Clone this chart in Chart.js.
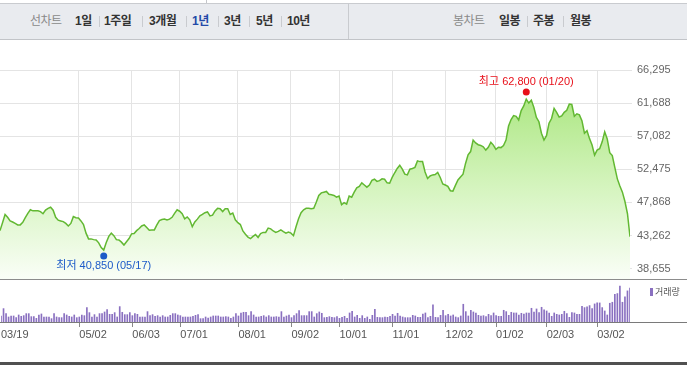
<!DOCTYPE html>
<html lang="ko">
<head>
<meta charset="utf-8">
<title>1년 차트</title>
<script src="https://cdn.jsdelivr.net/npm/chart.js@4.4.1/dist/chart.umd.min.js"></script>
<style>
    html, body { margin: 0; padding: 0; background: #fff; }
    body { width: 687px; height: 365px; position: relative; overflow: hidden;
           font-family: 'Liberation Sans', 'Noto Sans CJK KR', sans-serif; }
    #tabEdge { position: absolute; left: 206px; top: 0; width: 1px; height: 3px; background: #c4c6ca; }
    #bar { position: absolute; left: 0; top: 3px; width: 687px; height: 35px; background: #e9ebef;
           border-top: 1px solid #c9cbcf; border-bottom: 1px solid #c2c4c8; }
    #bar span { position: absolute; top: 0; line-height: 35px; font-size: 12px; font-weight: bold;
                color: #333; letter-spacing: -0.5px; white-space: nowrap; }
    #bar span.kind { font-weight: normal; color: #8a8a8a; }
    #bar span.on { color: #2349a8; }
    #bar i { position: absolute; top: 12px; width: 1px; height: 11px; background: #c9cbcf; }
    #bar b { position: absolute; top: 0; left: 348px; width: 1px; height: 35px; background: #c9cbcf; }
    canvas { position: absolute; left: 0; }
    #priceChart { top: 44px; }
    #volChart { top: 280px; }
    #volKey { position: absolute; left: 650px; top: 288px; width: 3px; height: 8px; background: #8a70c0; }
    #volKeyText { position: absolute; left: 655px; top: 285px; font-size: 9px; line-height: 14px; color: #555; }
    #foot { position: absolute; left: 0; top: 362px; width: 687px; height: 3px; background: #505050; }
</style>
</head>
<body>
<div id="tabEdge"></div>
<div id="bar">
    <span class="kind" style="left:30px">선차트</span>
    <span style="left:75px">1일</span><i style="left:99px"></i>
    <span style="left:104px">1주일</span><i style="left:142px"></i>
    <span style="left:149px">3개월</span><i style="left:186px"></i>
    <span class="on" style="left:192px">1년</span><i style="left:218px"></i>
    <span style="left:224px">3년</span><i style="left:249px"></i>
    <span style="left:256px">5년</span><i style="left:281px"></i>
    <span style="left:287px">10년</span>
    <b></b>
    <span class="kind" style="left:453px">봉차트</span>
    <span style="left:499px">일봉</span><i style="left:527px"></i>
    <span style="left:533px">주봉</span><i style="left:563px"></i>
    <span style="left:570px">월봉</span>
</div>
<canvas id="priceChart" width="687" height="236"></canvas>
<canvas id="volChart" width="687" height="82"></canvas>
<div id="volKey"></div>
<div id="volKeyText">거래량</div>
<div id="foot"></div>

<script>
// daily closes, one per trading day (03/19 .. 03/19 next year)
const closes = [
    43950, 45050, 46200, 45800, 45300, 45150, 44950, 44750, 44750, 45100,
    45750, 46350, 46850, 46700, 46700, 46700, 46600, 46300, 46800, 47050,
    47200, 46800, 45800, 45400, 45300, 45200, 44950, 44600, 44950, 45900,
    45750, 45700, 45300, 44800, 43600, 42800, 42800, 42700, 42650, 42250,
    41600, 41250, 42300, 43150, 43600, 43250, 42700, 42650, 42350, 41950,
    42400, 42850, 43500, 43550, 43950, 44250, 44600, 44750, 44400, 44000,
    44050, 44050, 44750, 45350, 45500, 45550, 45450, 45550, 45800, 46350,
    46850, 46650, 46300, 45600, 45850, 45450, 44500, 45150, 45550, 46000,
    46200, 46450, 46550, 46000, 46100, 46700, 47050, 47000, 46600, 47000,
    47000, 46200, 46400, 45450, 45050, 44800, 43900, 43450, 43050, 42850,
    43150, 43400, 43000, 43550, 43700, 43700, 44300, 44200, 43900, 43700,
    43850, 44050, 43800, 43600, 43750, 43600, 43250, 44500, 45600, 46450,
    46850, 47050, 47050, 47000, 47050, 47900, 48850, 49200, 49300, 49400,
    49000, 48950, 48850, 48600, 48750, 47550, 47850, 47650, 48750, 48600,
    49300, 49900, 50100, 50600, 50300, 50000, 50300, 50950, 51100, 50800,
    50900, 51150, 51100, 50600, 50550, 51350, 52000, 52600, 53050, 52500,
    51800, 51700, 52500, 52600, 52750, 53650, 53550, 53550, 52100, 51200,
    51550, 51700, 51750, 52050, 51350, 50450, 50300, 50100, 49500, 49450,
    50250, 51000, 51400, 51800, 53300, 54500, 54950, 56550, 56150, 55900,
    55800, 55600, 55150, 55550, 56250, 55850, 55250, 55550, 55500, 55800,
    56550, 58500, 59400, 59950, 59850, 59350, 60650, 61300, 62250, 61700,
    62100, 61100, 59700, 59100, 57500, 56550, 57150, 58900, 59550, 60950,
    60400, 59750, 59900, 60400, 60700, 61550, 61500, 59850, 60200, 60050,
    59250, 57500, 57850, 56750, 55850, 54450, 55150, 55350, 56300, 57700,
    56700, 54800, 54400, 52750, 51150, 50150, 49300, 48000, 46300, 43100
];

// daily volume (만주)
const volumes = [
    720, 1600, 1000, 600, 720, 720, 520, 840, 680, 760,
    1000, 1000, 640, 640, 440, 840, 960, 600, 600, 600,
    400, 1000, 600, 520, 520, 1000, 840, 680, 600, 840,
    520, 600, 840, 760, 1720, 1120, 600, 880, 600, 1000,
    1000, 1200, 1480, 920, 920, 1120, 600, 1840, 1160, 880,
    880, 1120, 760, 1000, 920, 600, 600, 600, 1240, 760,
    880, 680, 760, 600, 760, 600, 600, 800, 1000, 1000,
    840, 760, 600, 600, 600, 600, 680, 800, 880, 400,
    400, 600, 480, 600, 720, 720, 720, 600, 600, 640,
    600, 440, 600, 1000, 720, 1080, 1160, 1160, 760, 1240,
    840, 600, 600, 680, 760, 600, 760, 600, 600, 640,
    600, 1240, 600, 720, 840, 520, 760, 1000, 1360, 760,
    760, 760, 1240, 1240, 600, 1000, 1200,
    1040, 520, 560, 640, 560, 520, 640, 440, 560, 680,
    440, 1080, 1280, 600, 800, 440, 760, 440, 600, 320,
    800, 1520, 560, 520, 520, 600, 560, 680, 920, 720,
    1040, 720, 600, 520, 520, 520, 800, 720, 560, 560,
    960, 1080, 520, 680, 2040, 560, 520, 800, 1400, 760,
    920, 720, 840, 600, 520, 720, 2120, 1240, 720, 1400,
    1200, 1080, 800, 720, 760, 640, 920, 760, 1080, 760,
    680, 680, 1400, 1240, 800, 1160, 1080, 1080, 840, 1040,
    960, 1080, 1080, 1640, 1200, 1560, 1120, 1760, 1440, 1320,
    1080, 680, 1080, 920, 840, 920, 1280, 1000, 560, 1120,
    1080, 920, 920, 1880, 1720, 1800, 1960, 1600, 2160, 2280,
    2280, 1720, 1320, 840, 2240, 2360, 3320, 3400, 4280, 2360,
    3000, 3720, 4040
];

// x-axis labels and the trading-day index they sit on
const tickLabels = ['03/19', '05/02', '06/03', '07/01', '08/01', '09/02', '10/01', '11/01', '12/02', '01/02', '02/03', '03/02'];
const tickIdx = [0, 31, 52, 71, 94, 115, 134, 155, 176, 196, 216, 236];

// y-axis ticks
const priceTicks = [38655, 43262, 47868, 52475, 57082, 61688, 66295];
const priceMin = 37222;
const volMax = 4900;

// high / low markers
const hiIdx = 208, hiPrice = 62800, hiDate = '01/20';
const loIdx = 41, loPrice = 40850, loDate = '05/17';

document.addEventListener('DOMContentLoaded', function () {
    Chart.defaults.font.family = "'Liberation Sans', 'Noto Sans CJK KR', sans-serif";
    Chart.defaults.font.size = 11;
    Chart.defaults.color = '#555';

    const lastIdx = closes.length - 1;
    const fmt = (n) => n.toLocaleString('en-US');

    // full-width rule under the plot area
    const edgeLine = {
        id: 'edgeLine',
        afterDraw(chart, args, opts) {
            const { ctx, chartArea } = chart;
            ctx.save();
            ctx.strokeStyle = opts.color;
            ctx.lineWidth = 1;
            ctx.beginPath();
            ctx.moveTo(0, chartArea.bottom + 0.5);
            ctx.lineTo(chart.width, chartArea.bottom + 0.5);
            ctx.stroke();
            ctx.restore();
        }
    };

    // 최고 / 최저 markers
    const hiLo = {
        id: 'hiLo',
        afterDatasetsDraw(chart) {
            const { ctx, scales: { x, y } } = chart;
            const marks = [
                { i: hiIdx, v: hiPrice, d: hiDate, name: '최고', color: '#e8101a', dy: -3, ty: -10 },
                { i: loIdx, v: loPrice, d: loDate, name: '최저', color: '#1d5bc8', dy: 3, ty: 10.5 }
            ];
            ctx.save();
            ctx.font = "11px 'Liberation Sans', 'Noto Sans CJK KR', sans-serif";
            ctx.textAlign = 'center';
            ctx.textBaseline = 'middle';
            marks.forEach(m => {
                const px = x.getPixelForValue(m.i);
                const py = y.getPixelForValue(m.v) + m.dy;
                ctx.fillStyle = m.color;
                ctx.beginPath();
                ctx.arc(px, py, 3.5, 0, Math.PI * 2);
                ctx.fill();
                ctx.fillText(`${m.name} ${fmt(m.v)} (${m.d})`, px, py + m.ty);
            });
            ctx.restore();
        }
    };

    const hideFirst = (c) => c.index === 0 ? 'rgba(0,0,0,0)' : '#e4e4e4';

    new Chart(document.getElementById('priceChart').getContext('2d'), {
        type: 'line',
        data: {
            datasets: [{
                data: closes.map((v, i) => ({ x: i, y: v })),
                borderColor: '#62b832',
                borderWidth: 1.5,
                pointRadius: 0,
                tension: 0,
                fill: 'start',
                backgroundColor: (c) => {
                    const a = c.chart.chartArea;
                    if (!a) return 'rgba(0,0,0,0)';
                    const g = c.chart.ctx.createLinearGradient(0, a.top, 0, a.bottom);
                    g.addColorStop(0, '#a2e373');
                    g.addColorStop(0.55, '#d4f4bd');
                    g.addColorStop(1, '#fafef7');
                    return g;
                }
            }]
        },
        options: {
            responsive: false, animation: false, devicePixelRatio: 1,
            layout: { padding: { top: 26, bottom: 1, left: 0, right: 0 } },
            scales: {
                x: {
                    type: 'linear', min: 0, max: lastIdx,
                    afterBuildTicks: (s) => { s.ticks = tickIdx.map(v => ({ value: v })); },
                    afterFit: (s) => { s.height = 0; },
                    ticks: { display: false },
                    grid: { color: hideFirst, drawTicks: false },
                    border: { display: false }
                },
                y: {
                    position: 'right', min: priceMin, max: priceTicks[priceTicks.length - 1],
                    afterBuildTicks: (s) => { s.ticks = priceTicks.map(v => ({ value: v })); },
                    afterFit: (s) => { s.width = 57; s.paddingTop = 0; s.paddingBottom = 0; },
                    ticks: { color: '#666', padding: 5, callback: (v) => fmt(v) },
                    grid: { color: '#e4e4e4', tickLength: 2 },
                    border: { display: false }
                }
            },
            plugins: {
                legend: { display: false }, tooltip: { enabled: false },
                edgeLine: { color: '#8c8c8c' }
            }
        },
        plugins: [edgeLine, hiLo]
    });

    new Chart(document.getElementById('volChart').getContext('2d'), {
        type: 'bar',
        data: {
            datasets: [{
                data: volumes.map((v, i) => ({ x: i, y: v })),
                backgroundColor: '#8a70c0',
                barThickness: 1
            }]
        },
        options: {
            responsive: false, animation: false, devicePixelRatio: 1,
            layout: { padding: { top: 1, right: 57, left: 0, bottom: 0 } },
            scales: {
                x: {
                    type: 'linear', min: 0, max: lastIdx, offset: false,
                    afterBuildTicks: (s) => { s.ticks = tickIdx.map(v => ({ value: v })); },
                    afterFit: (s) => { s.height = 40; },
                    ticks: {
                        align: 'start', maxRotation: 0, autoSkip: false, padding: 1, color: '#555',
                        callback: (v, i) => tickLabels[i]
                    },
                    grid: {
                        offset: false, drawOnChartArea: false, tickLength: 5,
                        color: (c) => c.index === 0 ? 'rgba(0,0,0,0)' : '#888'
                    },
                    border: { display: false }
                },
                y: { display: false, min: 0, max: volMax }
            },
            plugins: {
                legend: { display: false }, tooltip: { enabled: false },
                edgeLine: { color: '#7a7a7a' }
            }
        },
        plugins: [edgeLine]
    });
});
</script>
</body>
</html>
